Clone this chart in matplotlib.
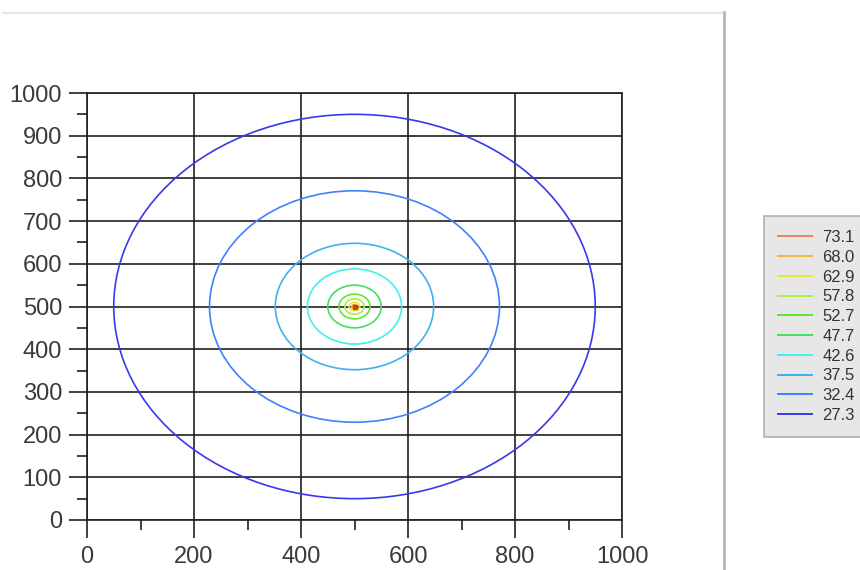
import matplotlib
matplotlib.use('Agg')
import matplotlib.pyplot as plt
from matplotlib.patches import Ellipse
from matplotlib.lines import Line2D
from matplotlib.ticker import MultipleLocator

plt.rcParams['font.family'] = ['Liberation Sans', 'DejaVu Sans']

# contour levels (legend order, top to bottom) and their read-off radii
levels = [73.1, 68.0, 62.9, 57.8, 52.7, 47.7, 42.6, 37.5, 32.4, 27.3]
radii = [2.5, 5, 10, 18, 29, 50, 88, 148, 271, 450]
colors = ['#f08050', '#f0b840', '#e8e840', '#a8f040', '#60e830',
          '#40e060', '#40f0f0', '#40b0f0', '#4080ff', '#3838ec']
center = (500, 500)

xticks = [0, 200, 400, 600, 800, 1000]
yticks = [0, 100, 200, 300, 400, 500, 600, 700, 800, 900, 1000]

fig = plt.figure(figsize=(8.6, 5.7), dpi=100)
ax = fig.add_axes([87/860, 50/570, 535/860, 427/570])

for lev, r, c in zip(levels, radii, colors):
    ax.add_patch(Ellipse(center, 2*r, 2*r, fill=False, edgecolor=c, lw=1.2, zorder=3))
ax.plot([center[0]], [center[1]], 's', ms=2.5, color='#d04000', zorder=4)

ax.set_xlim(0, 1000)
ax.set_ylim(0, 1000)
ax.set_xticks(xticks)
ax.set_yticks(yticks)
ax.xaxis.set_minor_locator(MultipleLocator(100))
ax.yaxis.set_minor_locator(MultipleLocator(50))
ax.grid(True, which='major', color='#202020', lw=1.2)
for s in ax.spines.values():
    s.set_color('#202020')
    s.set_linewidth(1.2)
ax.tick_params(which='major', direction='out', length=13, width=1.2, color='#202020',
               labelsize=17, labelcolor='#3a3a3a', pad=5)
ax.tick_params(which='minor', direction='out', length=7, width=1.2, color='#202020')
ax.tick_params(axis='x', which='major', pad=6)

# frame lines of the original window
fig.add_artist(Line2D([3/860, 724/860], [1-13/570, 1-13/570], color='#e6e6e6', lw=1.5))
fig.add_artist(Line2D([724/860, 724/860], [0, 1-12/570], color='#b0b0b0', lw=1.8))

handles = [Line2D([0], [0], color=c, lw=1.4) for c in colors]
leg = fig.legend(handles, [f'{l:.1f}' for l in levels],
                 loc='upper left', bbox_to_anchor=(764/860, 1-216/570),
                 fontsize=12, frameon=True, fancybox=False,
                 handlelength=2.05, handletextpad=0.6, labelspacing=0.285,
                 borderpad=0.85, borderaxespad=0)
leg.get_frame().set_facecolor('#e2e2e2')
leg.get_frame().set_edgecolor('#a0a0a0')
leg.get_frame().set_linewidth(1.2)
for t in leg.get_texts():
    t.set_color('#333333')

fig.savefig('out.png', dpi=100)
